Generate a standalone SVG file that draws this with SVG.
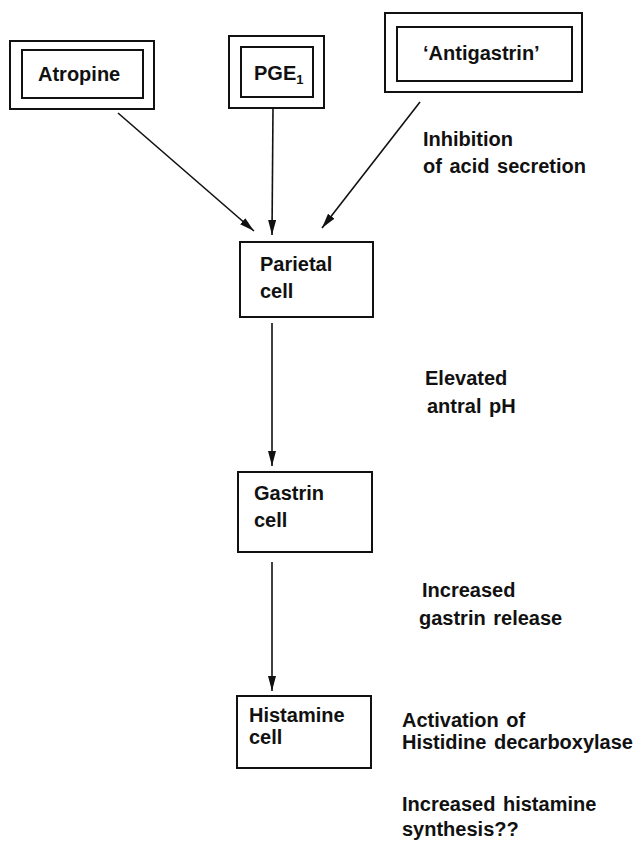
<svg xmlns="http://www.w3.org/2000/svg" width="641" height="849" viewBox="0 0 641 849">
<style>
.box{fill:none;stroke:#111;stroke-width:2}
.t{font-family:"Liberation Sans",Arial,sans-serif;font-weight:bold;font-size:20px;word-spacing:2px;fill:#111}
.c{stroke:#111;stroke-width:1.6;fill:none}
</style>
<defs>
<marker id="ah" viewBox="0 0 15 8" refX="15" refY="4" markerWidth="15" markerHeight="8" markerUnits="userSpaceOnUse" orient="auto">
<path d="M0,0 L15,4 L0,8 Z" fill="#111"/>
</marker>
</defs>
<rect width="641" height="849" fill="#fff"/>
<g id="atropine">
<rect class="box" x="10" y="41" width="144" height="68"/>
<rect class="box" x="22" y="50" width="121" height="48"/>
<text class="t" x="38" y="81">Atropine</text>
</g>
<g id="pge1">
<rect class="box" x="229" y="36" width="95" height="72"/>
<rect class="box" x="241" y="47" width="72" height="50"/>
<text class="t" x="254" y="80">PGE<tspan font-size="13" dy="4">1</tspan></text>
</g>
<g id="antigastrin">
<rect class="box" x="385" y="13" width="197" height="79"/>
<rect class="box" x="397" y="27" width="175" height="54"/>
<text class="t" x="423" y="60">‘Antigastrin’</text>
</g>
<g id="parietal">
<rect class="box" x="240" y="242" width="133" height="75"/>
<text class="t" x="260" y="271">Parietal</text>
<text class="t" x="260" y="298">cell</text>
</g>
<g id="gastrin">
<rect class="box" x="238" y="472" width="134" height="80"/>
<text class="t" x="254" y="500">Gastrin</text>
<text class="t" x="254" y="527">cell</text>
</g>
<g id="histamine">
<rect class="box" x="237" y="696" width="134" height="72"/>
<text class="t" x="249" y="722">Histamine</text>
<text class="t" x="249" y="744">cell</text>
</g>
<g id="connectors">
<line class="c" x1="118" y1="113" x2="254" y2="231" marker-end="url(#ah)"/>
<line class="c" x1="273" y1="108" x2="272" y2="235" marker-end="url(#ah)"/>
<line class="c" x1="420" y1="102" x2="322" y2="228" marker-end="url(#ah)"/>
<line class="c" x1="272" y1="323" x2="272" y2="466" marker-end="url(#ah)"/>
<line class="c" x1="272" y1="562" x2="272" y2="691" marker-end="url(#ah)"/>
</g>
<g id="labels">
<text class="t" x="423" y="146">Inhibition</text>
<text class="t" x="423" y="173">of acid secretion</text>
<text class="t" x="425" y="385">Elevated</text>
<text class="t" x="427" y="413">antral pH</text>
<text class="t" x="422" y="597">Increased</text>
<text class="t" x="419" y="625">gastrin release</text>
<text class="t" x="402" y="727">Activation of</text>
<text class="t" x="402" y="749">Histidine decarboxylase</text>
<text class="t" x="402" y="811">Increased histamine</text>
<text class="t" x="402" y="836">synthesis??</text>
</g>
</svg>
